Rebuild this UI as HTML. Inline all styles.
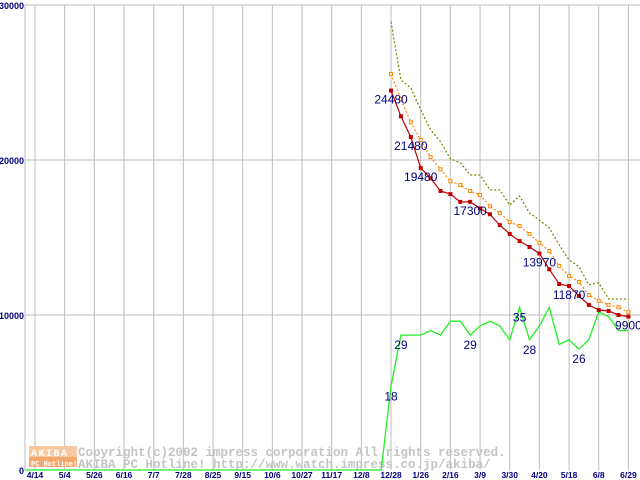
<!DOCTYPE html>
<html><head><meta charset="utf-8"><style>
html,body{margin:0;padding:0;background:#fff;width:640px;height:480px;overflow:hidden}
svg text{font-family:"Liberation Sans",sans-serif}
</style></head><body>
<svg id="chart" width="640" height="480" viewBox="0 0 640 480" xmlns="http://www.w3.org/2000/svg">
<g id="grid"></g>
<g id="watermark">
  <rect x="29" y="446" width="48" height="11" fill="#f8c8a0"/>
  <rect x="29" y="457" width="48" height="10" fill="#f4a870"/>
  <text x="31" y="456" font-size="10" font-weight="bold" fill="#fff" style="font-family:'Liberation Mono',monospace" letter-spacing="1.5">AKIBA</text>
  <text x="31" y="466" font-size="7" font-weight="bold" fill="#fff" style="font-family:'Liberation Mono',monospace">PC Hotline!</text>
  <text x="78" y="456" font-size="12.5" font-weight="bold" fill="#c4c4c4" style="font-family:'Liberation Mono',monospace">Copyright(c)2002 impress corporation All rights reserved.</text>
  <text x="78" y="468" font-size="12.5" font-weight="bold" fill="#c4c4c4" style="font-family:'Liberation Mono',monospace">AKIBA PC Hotline! http://www.watch.impress.co.jp/akiba/</text>
</g>
<g id="series"></g>
<g id="labels"></g>
</svg>
<script>
const xTickLabels = ["4/14","5/4","5/26","6/16","7/7","7/28","8/25","9/15","10/6","10/27","11/17","12/8","12/28","1/26","2/16","3/9","3/30","4/20","5/18","6/8","6/29"];
const yTickValues = [0,10000,20000,30000];
const minPrice = [24480,22820,21480,19480,18820,18000,17800,17300,17300,16880,16500,15800,15230,14770,14390,13970,12950,12000,11870,11230,10650,10320,10260,10000,9900];
const avgPrice = [25550,23920,22430,21290,20190,19400,18630,18390,18000,17740,17010,16580,16000,15740,15230,14650,14130,13160,12520,12130,11290,10920,10650,10500,10190];
const maxPrice = [28920,25160,24650,23230,21940,21180,20070,19830,19030,19030,18070,18070,17100,17680,16580,16130,15610,14520,13550,13120,11940,12080,11030,11030,11030];
const shopCount = [18,29,29,29,30,29,32,32,29,31,32,31,28,35,28,31,35,27,28,26,28,34,33,30,30];
const priceLabels = [[0,"24480"],[2,"21480"],[3,"19480"],[8,"17300"],[15,"13970"],[18,"11870"],[24,"9900"]];
const countLabels = [[0,"18"],[1,"29"],[8,"29"],[13,"35"],[14,"28"],[19,"26"]];

const NS="http://www.w3.org/2000/svg";
const X0=25, Y0=470, PXV=155/10000;
const TICK0=35, TICKW=29.67, WEEK=TICKW/3, FIRST=TICK0+12*TICKW;
const sx=i=>FIRST+i*WEEK;
const sy=v=>Y0-v*PXV;
const cy=c=>sy(c*300);
function mk(tag,attrs,parent){const e=document.createElementNS(NS,tag);for(const k in attrs)e.setAttribute(k,attrs[k]);parent.appendChild(e);return e;}
const grid=document.getElementById('grid'), ser=document.getElementById('series'), lab=document.getElementById('labels');

yTickValues.forEach(v=>{
  const y=sy(v);
  if(v>0){const l=mk('line',{x1:X0,x2:640,y1:y,y2:y,stroke:'#bdbdbd','stroke-width':1},grid);
  
  }
  const t=mk('text',{x:X0-1,y:y+4,'text-anchor':'end','font-size':9,'font-weight':'bold',fill:'#000080'},grid);
  t.textContent=String(v);
  
  
});
const ax=mk('line',{x1:X0,x2:X0,y1:sy(30000),y2:Y0,stroke:'#bdbdbd'},grid);


xTickLabels.forEach((s,i)=>{
  const x=TICK0+i*TICKW;
  const l=mk('line',{x1:x,x2:x,y1:sy(30000),y2:Y0,stroke:'#bdbdbd'},grid);
  
  
  const t=mk('text',{x:x,y:478,'text-anchor':'middle','font-size':8.5,'font-weight':'bold',fill:'#000080'},grid);
  t.textContent=s;
  
  
});

function pts(arr,f){return arr.map((v,i)=>sx(i).toFixed(1)+','+f(v).toFixed(1)).join(' ');}
// shop count (green)
const gpts=X0+','+Y0+' '+sx(-1).toFixed(1)+','+Y0+' '+pts(shopCount,cy);
const g=mk('polyline',{points:gpts,fill:'none',stroke:'#22ee22','stroke-width':1.3},ser);


const mx=mk('polyline',{points:pts(maxPrice,sy),fill:'none',stroke:'#808000','stroke-width':1.2,'stroke-dasharray':'2,2'},ser);


const av=mk('polyline',{points:pts(avgPrice,sy),fill:'none',stroke:'#ff8800','stroke-width':1.2,'stroke-dasharray':'2,2'},ser);


avgPrice.forEach((v,i)=>{const r=mk('rect',{x:sx(i)-1.5,y:sy(v)-1.5,width:3,height:3,fill:'#fff',stroke:'#ff8800','stroke-width':1},ser);
  
  });
const mn=mk('polyline',{points:pts(minPrice,sy),fill:'none',stroke:'#c00000','stroke-width':1.2},ser);


minPrice.forEach((v,i)=>{const r=mk('rect',{x:sx(i)-2,y:sy(v)-2,width:4,height:4,fill:'#c00000'},ser);
  
  });

priceLabels.forEach(([i,s])=>{
  const t=mk('text',{x:sx(i),y:sy(minPrice[i])+13,'text-anchor':'middle','font-size':12,fill:'#000080'},lab);
  t.textContent=s;
  
  
});
countLabels.forEach(([i,s])=>{
  const t=mk('text',{x:sx(i),y:cy(shopCount[i])+14,'text-anchor':'middle','font-size':12,fill:'#000080'},lab);
  t.textContent=s;
  
  
});
</script>
</body></html>
